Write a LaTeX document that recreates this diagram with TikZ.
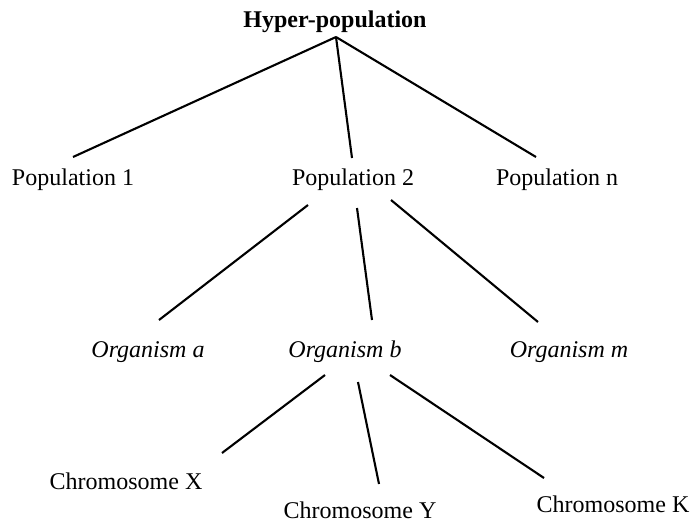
\documentclass[tikz,border=0pt]{standalone}
\usepackage{fontspec}
\setmainfont{Liberation Serif}
\begin{document}
\begin{tikzpicture}[x=1pt,y=-1pt,
  lbl/.style={font=\fontsize{24}{28}\selectfont, inner sep=0pt, anchor=base},
  link/.style={line width=2.1pt}]
\useasboundingbox (0,0) rectangle (692,522);

% labels
\node[lbl, font=\fontsize{24}{28}\selectfont\bfseries] (hyper) at (335,27) {Hyper-population};
\node[lbl] (pop1) at (73,185) {Population 1};
\node[lbl] (pop2) at (353,185) {Population 2};
\node[lbl] (popn) at (557,185) {Population n};
\node[lbl, font=\fontsize{24}{28}\selectfont\itshape] (orga) at (148,357) {Organism a};
\node[lbl, font=\fontsize{24}{28}\selectfont\itshape] (orgb) at (345,357) {Organism b};
\node[lbl, font=\fontsize{24}{28}\selectfont\itshape] (orgm) at (569,357) {Organism m};
\node[lbl] (chrx) at (126,489) {Chromosome X};
\node[lbl] (chry) at (360,518) {Chromosome Y};
\node[lbl] (chrk) at (613,512) {Chromosome K};

% connector ends
\coordinate (hyper-foot) at (336,37);
\coordinate (pop1-head) at (73,157);
\coordinate (pop2-head) at (352,158);
\coordinate (popn-head) at (536,157);
\coordinate (pop2-footl) at (308,205);
\coordinate (pop2-footm) at (357,208);
\coordinate (pop2-footr) at (391,200);
\coordinate (orga-head) at (159,320);
\coordinate (orgb-head) at (372,320);
\coordinate (orgm-head) at (538,322);
\coordinate (orgb-footl) at (325,375);
\coordinate (orgb-footm) at (358,382);
\coordinate (orgb-footr) at (390,375);
\coordinate (chrx-head) at (222,453);
\coordinate (chry-head) at (379,484);
\coordinate (chrk-head) at (544,478);

% tree edges
\draw[link] (hyper-foot) -- (pop1-head);
\draw[link] (hyper-foot) -- (pop2-head);
\draw[link] (hyper-foot) -- (popn-head);
\draw[link] (pop2-footl) -- (orga-head);
\draw[link] (pop2-footm) -- (orgb-head);
\draw[link] (pop2-footr) -- (orgm-head);
\draw[link] (orgb-footl) -- (chrx-head);
\draw[link] (orgb-footm) -- (chry-head);
\draw[link] (orgb-footr) -- (chrk-head);
\end{tikzpicture}
\end{document}
